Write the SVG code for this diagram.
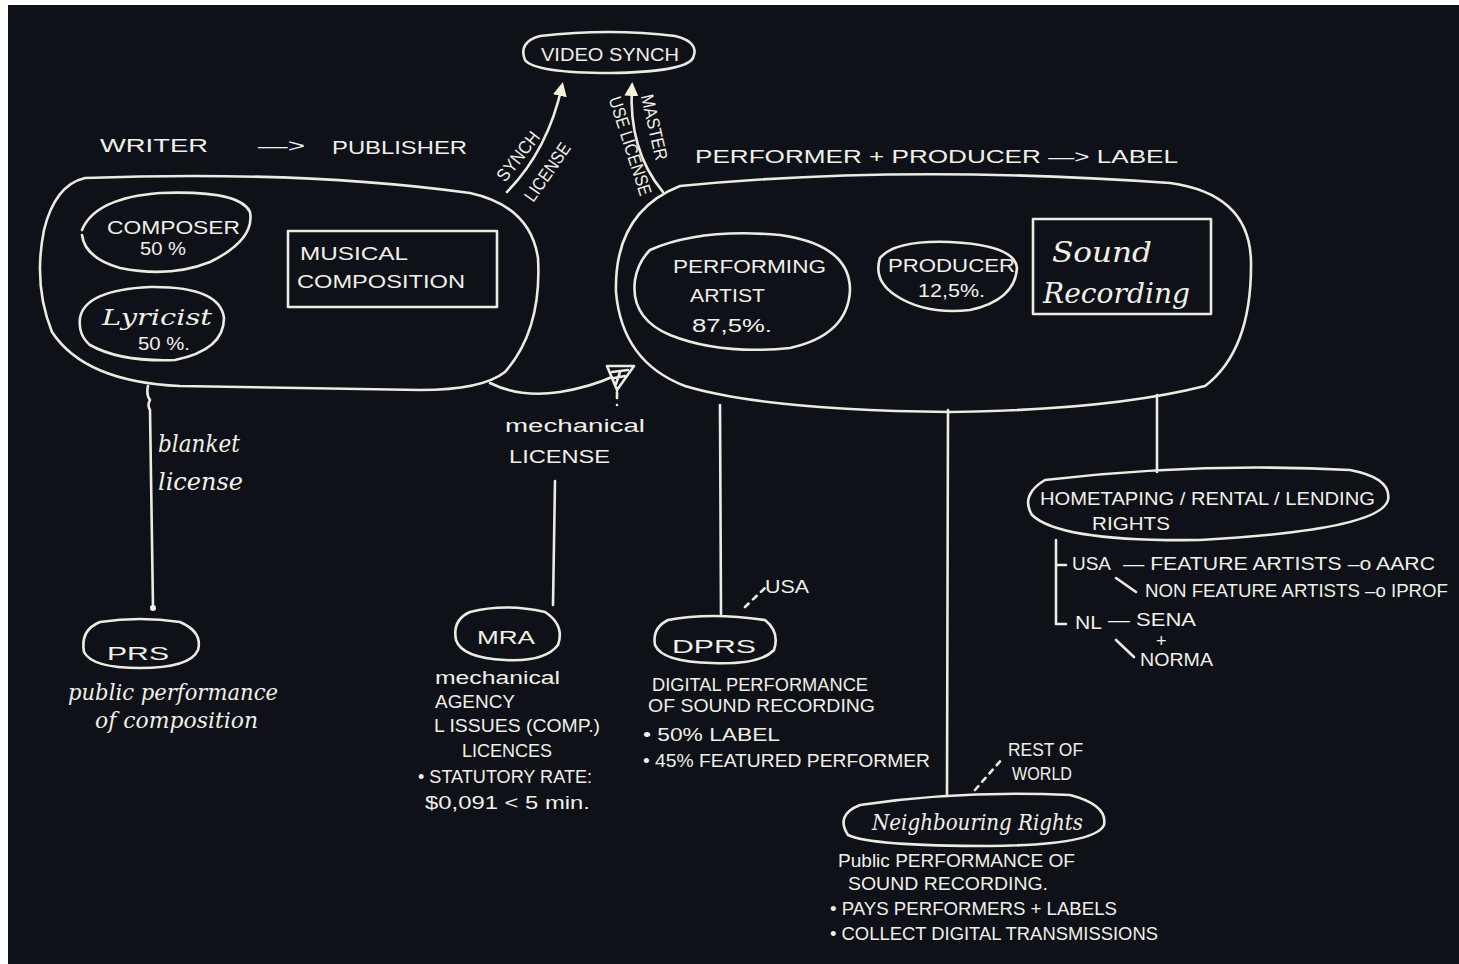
<svg xmlns="http://www.w3.org/2000/svg" width="1459" height="964" viewBox="0 0 1459 964">
<defs>
<style>
.bg{fill:#0e1117}
.s{fill:none;stroke:#ecebe3;stroke-width:2.6;stroke-linecap:round;stroke-linejoin:round}
.t{fill:#f1f0e8;font-family:"Liberation Sans","DejaVu Sans",sans-serif;font-size:18px}
.h{fill:#f1f0e8;font-family:"DejaVu Serif","Liberation Serif",serif;font-style:italic}
.d{stroke-dasharray:5 6}
</style>
<marker id="ah" markerWidth="14" markerHeight="14" refX="10" refY="7" orient="auto" markerUnits="userSpaceOnUse" viewBox="0 0 14 14">
<path d="M0,0 L14,7 L0,14 Z" fill="#f4f1dc"/>
</marker>
<marker id="sm" markerWidth="8" markerHeight="8" refX="4" refY="4" orient="auto" markerUnits="userSpaceOnUse" viewBox="0 0 8 8">
<circle cx="4" cy="4" r="3" fill="#f4f1dc"/>
</marker>
</defs>
<rect x="0" y="0" width="1459" height="964" fill="#ffffff"/>
<rect class="bg" x="8" y="5" width="1451" height="959"/>

<g id="titles">
<text class="t" x="100" y="152" font-size="22" textLength="108" lengthAdjust="spacingAndGlyphs">WRITER</text>
<text class="t" x="258" y="152" font-size="22" textLength="47" lengthAdjust="spacingAndGlyphs">—&gt;</text>
<text class="t" x="332" y="154" font-size="22" textLength="135" lengthAdjust="spacingAndGlyphs">PUBLISHER</text>
<text class="t" x="695" y="163" font-size="21" textLength="483" lengthAdjust="spacingAndGlyphs">PERFORMER + PRODUCER —&gt; LABEL</text>
</g>

<g id="video-synch">
<path class="s" d="M 540,36 Q 610,28 675,36 Q 700,42 693,58 Q 685,72 610,73 Q 535,73 525,60 Q 518,42 540,36 Z"/>
<text class="t" x="541" y="61" font-size="21" textLength="138" lengthAdjust="spacingAndGlyphs">VIDEO SYNCH</text>
</g>

<g id="publisher">
<path class="s" d="M 85,178 Q 300,170 470,193 Q 530,206 538,258 Q 542,330 505,372 Q 482,390 420,390 L 180,386 Q 85,382 52,332 Q 33,285 44,230 Q 55,185 85,178 Z"/>
</g>

<g id="composer">
<path class="s" d="M 82,230 Q 95,198 160,193 Q 240,190 250,212 Q 255,240 210,262 Q 170,278 120,268 Q 85,258 82,235"/>
<text class="t" x="107" y="234" font-size="20" textLength="133" lengthAdjust="spacingAndGlyphs">COMPOSER</text>
<text class="t" x="140" y="255" font-size="17" textLength="46" lengthAdjust="spacingAndGlyphs">50 %</text>
</g>

<g id="lyricist">
<path class="s" d="M 80,318 Q 85,290 150,287 Q 220,286 224,318 Q 224,350 175,360 Q 120,362 90,345 Q 78,335 80,318 Z"/>
<text class="h" x="102" y="325" font-size="22" textLength="110" lengthAdjust="spacingAndGlyphs">Lyricist</text>
<text class="t" x="138" y="350" font-size="17" textLength="52" lengthAdjust="spacingAndGlyphs">50 %.</text>
</g>

<g id="musical-composition">
<rect class="s" x="288" y="231" width="209" height="76"/>
<text class="t" x="300" y="260" font-size="20" textLength="108" lengthAdjust="spacingAndGlyphs">MUSICAL</text>
<text class="t" x="297" y="288" font-size="20" textLength="168" lengthAdjust="spacingAndGlyphs">COMPOSITION</text>
</g>

<g id="label">
<path class="s" d="M 680,186 Q 900,164 1170,183 Q 1250,194 1251,262 Q 1252,350 1205,386 Q 1110,410 950,412 Q 765,410 685,386 Q 622,362 616,292 Q 614,212 680,186 Z"/>
</g>

<g id="performing-artist">
<path class="s" d="M 650,250 Q 700,228 780,235 Q 850,245 850,290 Q 848,335 790,348 Q 720,355 670,335 Q 630,318 635,280 Q 638,262 650,250 Z"/>
<text class="t" x="673" y="273" font-size="20" textLength="153" lengthAdjust="spacingAndGlyphs">PERFORMING</text>
<text class="t" x="690" y="302" font-size="19" textLength="75" lengthAdjust="spacingAndGlyphs">ARTIST</text>
<text class="t" x="692" y="332" font-size="19" textLength="80" lengthAdjust="spacingAndGlyphs">87,5%.</text>
</g>

<g id="producer">
<path class="s" d="M 880,258 Q 895,240 950,242 Q 1015,245 1017,268 Q 1015,300 970,310 Q 925,315 895,295 Q 873,280 880,258 Z"/>
<text class="t" x="888" y="272" font-size="18" textLength="127" lengthAdjust="spacingAndGlyphs">PRODUCER</text>
<text class="t" x="918" y="297" font-size="16" textLength="67" lengthAdjust="spacingAndGlyphs">12,5%.</text>
</g>

<g id="sound-recording">
<rect class="s" x="1033" y="219" width="178" height="95"/>
<text class="h" x="1052" y="262" font-size="28" textLength="100" lengthAdjust="spacingAndGlyphs">Sound</text>
<text class="h" x="1043" y="303" font-size="28" textLength="147" lengthAdjust="spacingAndGlyphs">Recording</text>
</g>

<g id="prs">
<path class="s" d="M 100,622 Q 140,616 180,622 Q 203,632 198,650 Q 190,668 140,668 Q 92,668 84,652 Q 80,630 100,622 Z"/>
<text class="t" x="107" y="660" font-size="32" textLength="62" lengthAdjust="spacingAndGlyphs">PRS</text>
<text class="h" x="68" y="700" font-size="22" textLength="210" lengthAdjust="spacingAndGlyphs">public performance</text>
<text class="h" x="95" y="728" font-size="22" textLength="163" lengthAdjust="spacingAndGlyphs">of composition</text>
</g>

<g id="mra">
<path class="s" d="M 470,612 Q 505,603 545,612 Q 565,625 558,645 Q 545,662 505,660 Q 462,658 456,640 Q 452,620 470,612 Z"/>
<text class="t" x="477" y="644" font-size="26" textLength="58" lengthAdjust="spacingAndGlyphs">MRA</text>
<text class="t" x="435" y="684" font-size="16" textLength="125" lengthAdjust="spacingAndGlyphs">mechanical</text>
<text class="t" x="435" y="708" font-size="16" textLength="80" lengthAdjust="spacingAndGlyphs">AGENCY</text>
<text class="t" x="434" y="732" font-size="18" textLength="166" lengthAdjust="spacingAndGlyphs">L ISSUES (COMP.)</text>
<text class="t" x="462" y="757" font-size="17" textLength="90" lengthAdjust="spacingAndGlyphs">LICENCES</text>
<text class="t" x="418" y="783" font-size="16" textLength="174" lengthAdjust="spacingAndGlyphs">• STATUTORY RATE:</text>
<text class="t" x="425" y="809" font-size="19" textLength="165" lengthAdjust="spacingAndGlyphs">$0,091 &lt; 5 min.</text>
</g>

<g id="dprs">
<path class="s" d="M 668,620 Q 710,612 765,620 Q 780,632 774,650 Q 760,665 712,663 Q 662,662 655,645 Q 652,628 668,620 Z"/>
<text class="t" x="672" y="653" font-size="31" textLength="84" lengthAdjust="spacingAndGlyphs">DPRS</text>
<text class="t" x="765" y="593" font-size="18" textLength="44" lengthAdjust="spacingAndGlyphs">USA</text>
<text class="t" x="652" y="691" font-size="16" textLength="216" lengthAdjust="spacingAndGlyphs">DIGITAL PERFORMANCE</text>
<text class="t" x="648" y="712" font-size="16" textLength="227" lengthAdjust="spacingAndGlyphs">OF SOUND RECORDING</text>
<text class="t" x="643" y="741" font-size="16" textLength="137" lengthAdjust="spacingAndGlyphs">• 50% LABEL</text>
<text class="t" x="643" y="767" font-size="16" textLength="287" lengthAdjust="spacingAndGlyphs">• 45% FEATURED PERFORMER</text>
</g>

<g id="neighbouring-rights">
<path class="s" d="M 860,805 Q 960,790 1070,795 Q 1108,805 1104,825 Q 1095,845 990,846 Q 870,846 848,835 Q 835,815 860,805 Z"/>
<text class="h" x="872" y="830" font-size="22" textLength="211" lengthAdjust="spacingAndGlyphs">Neighbouring Rights</text>
<text class="t" x="1008" y="756" font-size="16" textLength="75" lengthAdjust="spacingAndGlyphs">REST OF</text>
<text class="t" x="1012" y="780" font-size="16" textLength="60" lengthAdjust="spacingAndGlyphs">WORLD</text>
<text class="t" x="838" y="867" font-size="17" textLength="237" lengthAdjust="spacingAndGlyphs">Public PERFORMANCE OF</text>
<text class="t" x="848" y="890" font-size="16" textLength="200" lengthAdjust="spacingAndGlyphs">SOUND RECORDING.</text>
<text class="t" x="830" y="915" font-size="16" textLength="287" lengthAdjust="spacingAndGlyphs">• PAYS PERFORMERS + LABELS</text>
<text class="t" x="830" y="940" font-size="16" textLength="328" lengthAdjust="spacingAndGlyphs">• COLLECT DIGITAL TRANSMISSIONS</text>
</g>

<g id="hometaping">
<path class="s" d="M 1045,480 Q 1200,462 1350,470 Q 1392,478 1388,500 Q 1380,530 1200,540 Q 1060,542 1032,515 Q 1020,495 1045,480 Z"/>
<text class="t" x="1040" y="505" font-size="18" textLength="335" lengthAdjust="spacingAndGlyphs">HOMETAPING / RENTAL / LENDING</text>
<text class="t" x="1092" y="530" font-size="16" textLength="78" lengthAdjust="spacingAndGlyphs">RIGHTS</text>
<text class="t" x="1072" y="570" font-size="18" textLength="39" lengthAdjust="spacingAndGlyphs">USA</text>
<text class="t" x="1123" y="570" font-size="17" textLength="312" lengthAdjust="spacingAndGlyphs">— FEATURE ARTISTS –o AARC</text>
<text class="t" x="1145" y="597" font-size="16" textLength="303" lengthAdjust="spacingAndGlyphs">NON FEATURE ARTISTS –o IPROF</text>
<text class="t" x="1075" y="629" font-size="18" textLength="27" lengthAdjust="spacingAndGlyphs">NL</text>
<text class="t" x="1108" y="626" font-size="16" textLength="88" lengthAdjust="spacingAndGlyphs">— SENA</text>
<text class="t" x="1156" y="647" font-size="10">+</text>
<text class="t" x="1140" y="666" font-size="16" textLength="73" lengthAdjust="spacingAndGlyphs">NORMA</text>
</g>

<g id="connectors">
<path class="s" d="M 507,192 Q 548,150 562,86" marker-end="url(#ah)"/>
<path class="s" d="M 663,192 Q 628,150 632,86" marker-end="url(#ah)"/>
<text class="t" font-size="15" textLength="58" lengthAdjust="spacingAndGlyphs" transform="translate(519,157) rotate(-52)" x="-29" y="5">SYNCH</text>
<text class="t" font-size="15" textLength="67" lengthAdjust="spacingAndGlyphs" transform="translate(548,173) rotate(-55)" x="-33" y="5">LICENSE</text>
<text class="t" font-size="14" textLength="67" lengthAdjust="spacingAndGlyphs" transform="translate(653,127) rotate(77)" x="-33" y="5">MASTER</text>
<text class="t" font-size="14" textLength="103" lengthAdjust="spacingAndGlyphs" transform="translate(629,146) rotate(72)" x="-51" y="5">USE LICENSE</text>

<path class="s" d="M 148,386 Q 146,395 150,400 Q 147,405 150,410 L 153,608" marker-end="url(#sm)"/>
<text class="h" x="158" y="452" font-size="24" textLength="82" lengthAdjust="spacingAndGlyphs">blanket</text>
<text class="h" x="158" y="490" font-size="24" textLength="85" lengthAdjust="spacingAndGlyphs">license</text>

<path class="s" d="M 490,383 Q 520,398 560,392 Q 590,387 612,377"/>
<path class="s" d="M 607,366 L 634,366 L 617,390 Z M 612,372 L 628,370 M 614,378 L 625,376 M 616,384 L 620,372"/>
<path class="s" d="M 617,392 L 617,398" />
<circle cx="617" cy="405" r="1.3" fill="#ecebe3"/>
<text class="t" x="505" y="432" font-size="19" textLength="140" lengthAdjust="spacingAndGlyphs">mechanical</text>
<text class="t" x="509" y="463" font-size="21" textLength="101" lengthAdjust="spacingAndGlyphs">LICENSE</text>
<path class="s" d="M 555,481 L 553,605"/>

<path class="s" d="M 720,405 L 721,614"/>
<path class="s d" d="M 745,607 L 765,588"/>

<path class="s" d="M 948,410 L 947,796"/>
<path class="s d" d="M 975,790 L 1003,758"/>

<path class="s" d="M 1157,395 L 1157,472"/>
<path class="s" d="M 1056,540 L 1056,565 L 1066,565 M 1056,565 L 1056,624 L 1066,624"/>
<path class="s" d="M 1116,578 L 1136,592"/>
<path class="s" d="M 1116,640 L 1134,657"/>
</g>
</svg>
